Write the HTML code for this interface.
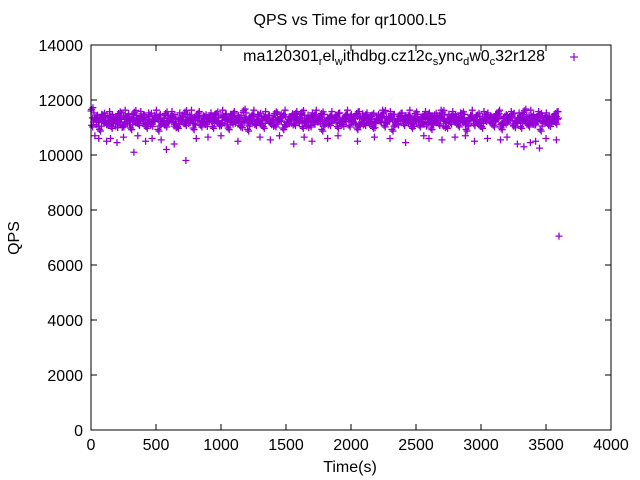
<!DOCTYPE html>
<html><head><meta charset="utf-8"><style>
body{margin:0;background:#fff}
svg{display:block;font-family:"Liberation Sans",sans-serif}
</style></head><body>
<svg id="chart" width="640" height="480" viewBox="0 0 640 480">
<rect x="0" y="0" width="640" height="480" fill="#fff"/>
<text x="350" y="25" font-size="16" text-anchor="middle">QPS vs Time for qr1000.L5</text>
<text transform="translate(19,238) rotate(-90)" font-size="16" text-anchor="middle">QPS</text>
<text x="350" y="472" font-size="16" text-anchor="middle">Time(s)</text>
<g id="axes"></g>
<g id="marks"></g>
<rect x="91" y="45" width="520" height="385" fill="none" stroke="#000" stroke-width="1"/>
<text x="545" y="61" font-size="16" text-anchor="end">ma120301<tspan font-size="11" dy="4">r</tspan><tspan dy="-4">el</tspan><tspan font-size="11" dy="4">w</tspan><tspan dy="-4">ithdbg.cz12c</tspan><tspan font-size="11" dy="4">s</tspan><tspan dy="-4">ync</tspan><tspan font-size="11" dy="4">d</tspan><tspan dy="-4">w0</tspan><tspan font-size="11" dy="4">c</tspan><tspan dy="-4">32r128</tspan></text>
<g stroke="#9400d3" stroke-width="1.2"><line x1="570" y1="57" x2="578" y2="57"/><line x1="574" y1="53" x2="574" y2="61"/></g>
</svg>
<script>
const xTicks=[0,500,1000,1500,2000,2500,3000,3500,4000];
const yTicks=[0,2000,4000,6000,8000,10000,12000,14000];
const qpsA=[11600,11300,11200,11400,11100,11350,11250,11450,11000,11300,11200,11500,11150,11350,11050,11400,11250,11300,11100,11450,11200,11350,11000,11300,11500,11150,11250,11400,11100,11350,11300,11200,11450,11050,11350,11250,11400,11150,11300,11550,11200,11350,11100,11400,11250,11300,11150,11450,11200,11350,11050,11300,11400,11250,11500,11150,11300,11350,11200,11450,11100,11300,11250,11400,11150,11350,11300,11200,11450,11050,11350,11250,11400,11150,11300,11500,11200,11350,11100,11400,11250,11300,11150,11450,11200,11350,11050,11300,11400,11250,11500,11150,11300,11350,11200,11450,11100,11300,11250,11400,11150,11350,11300,11200,11450,11050,11350,11250,11400,11150,11300,11550,11200,11350,11100,11400,11250,11300,11150,11450];
const qpsB=[11200,11450,11050,11350,11250,11150,11400,11300,11200,11500,11100,11350,11250,11450,11150,11300,11400,11050,11350,11200,11450,11300,11150,11400,11250,11350,11100,11450,11200,11300,11400,11150,11350,11250,11500,11100,11300,11450,11200,11350,11050,11400,11250,11300,11150,11450,11350,11200,11400,11100,11300,11500,11250,11350,11150,11450,11200,11300,11400,11050,11350,11250,11450,11150,11300,11400,11200,11350,11100,11500,11250,11300,11150,11450,11350,11200,11400,11050,11300,11450,11250,11350,11150,11400,11200,11300,11500,11100,11350,11250,11450,11150,11300,11400,11200,11350,11050,11450,11250,11300,11150,11400,11350,11200,11500,11100,11300,11450,11250,11350,11150,11400,11200,11300,11450,11050,11350,11250,11400,11300];
const qpsC=[11350,11100,11300,11250,11400,11200,11050,11350,11450,11150,11300,11250,11400,11200,11350,11100,11450,11300,11150,11250,11400,11050,11350,11200,11300,11450,11150,11400,11250,11100,11350,11300,11200,11450,11150,11300,11400,11250,11050,11350,11200,11450,11300,11150,11400,11250,11100,11350,11300,11450,11200,11150,11400,11300,11250,11050,11350,11450,11200,11300,11150,11400,11250,11350,11100,11450,11300,11200,11400,11150,11350,11250,11050,11300,11450,11200,11400,11300,11150,11350,11250,11450,11100,11300,11200,11400,11350,11150,11250,11450,11050,11300,11400,11200,11350,11300,11150,11450,11250,11100,11400,11350,11200,11300,11450,11150,11250,11400,11050,11350,11300,11200,11450,11150,11400,11250,11350,11100,11300,11400];
const outT=[30,60,120,150,200,250,330,360,420,470,540,580,640,730,810,900,1000,1130,1300,1380,1450,1560,1640,1700,1820,1900,2050,2180,2300,2420,2560,2600,2700,2800,2880,2950,3050,3150,3200,3280,3330,3380,3420,3450,3500,3580,3600];
const outQ=[10700,10600,10500,10600,10450,10650,10100,10700,10500,10600,10550,10200,10400,9800,10600,10650,10700,10500,10650,10550,10700,10400,10650,10500,10600,10700,10500,10650,10600,10450,10700,10600,10550,10650,10700,10500,10600,10550,10650,10400,10300,10450,10500,10250,10600,10550,7050];
const NS="http://www.w3.org/2000/svg";
const X0=91,X1=611,Y0=430,Y1=45;
function sx(t){return X0+(t/4000)*(X1-X0);}
function sy(v){return Y0-(v/14000)*(Y0-Y1);}
const axes=document.getElementById('axes'),marks=document.getElementById('marks');
function mk(tag,attrs,parent){const e=document.createElementNS(NS,tag);for(const k in attrs)e.setAttribute(k,attrs[k]);parent.appendChild(e);return e;}
xTicks.forEach(t=>{const x=sx(t);
 const l=mk('line',{x1:x,y1:Y0,x2:x,y2:Y0-6,stroke:'#000'},axes);
 
 
 const l2=mk('line',{x1:x,y1:Y1,x2:x,y2:Y1+6,stroke:'#000'},axes);
 
 
 const tx=mk('text',{x:x,y:Y0+20,'font-size':16,'text-anchor':'middle'},axes);tx.textContent=t;
 
 
});
yTicks.forEach(v=>{const y=sy(v);
 const l=mk('line',{x1:X0,y1:y,x2:X0+6,y2:y,stroke:'#000'},axes);
 
 
 const l2=mk('line',{x1:X1,y1:y,x2:X1-6,y2:y,stroke:'#000'},axes);
 
 
 const tx=mk('text',{x:X0-8,y:y+6,'font-size':16,'text-anchor':'end'},axes);tx.textContent=v;
 
 
});
function cross(t,v,color){const x=sx(t),y=sy(v);
 const p=mk('path',{d:`M${x-3.5},${y}H${x+3.5}M${x},${y-3.5}V${y+3.5}`,stroke:color,'stroke-width':1.3,fill:'none'},marks);
 
 
}
const C='#9400d3';
const offs=[[0,0],[5,-120],[10,0],[15,120],[20,0],[25,-60],[3,60],[13,-180],[23,180]];
const series=[qpsA,qpsB,qpsC];
offs.forEach((o,k)=>{series[k%3].forEach((v,i)=>cross(i*30+o[0],v+o[1],C));});
outT.forEach((t,i)=>cross(t,outQ[i],C));
</script>
</body></html>
